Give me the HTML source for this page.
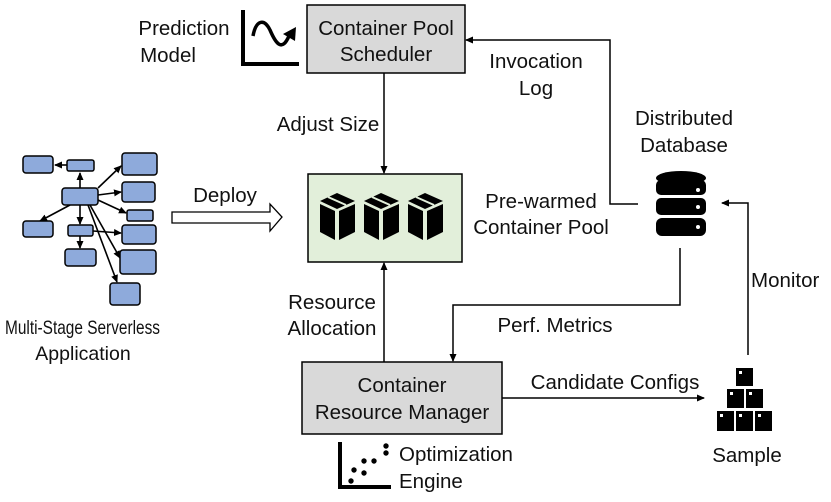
<!DOCTYPE html>
<html><head><style>
html,body{margin:0;padding:0;background:#fff}
svg text{font-family:"Liberation Sans",sans-serif;font-size:20.5px;fill:#111}
</style></head><body>
<svg width="831" height="497" viewBox="0 0 831 497" xmlns="http://www.w3.org/2000/svg">
<defs>
<marker id="a" markerWidth="8" markerHeight="8" refX="7" refY="4" orient="auto" markerUnits="userSpaceOnUse">
<path d="M0,0.5 L8,4 L0,7.5 Z" fill="#000"/></marker>
</defs>
<g stroke="#000" stroke-width="1.6" fill="none" marker-end="url(#a)">
<line x1="80" y1="188" x2="80" y2="173"/>
<line x1="67" y1="165" x2="55" y2="165"/>
<line x1="70" y1="205" x2="40" y2="221"/>
<line x1="80" y1="205" x2="80" y2="224"/>
<line x1="80" y1="236" x2="80" y2="248"/>
<line x1="98" y1="188" x2="121" y2="166"/>
<line x1="98" y1="195" x2="121" y2="192"/>
<line x1="98" y1="200" x2="126" y2="213"/>
<line x1="93" y1="231" x2="121" y2="233"/>
<line x1="90" y1="205" x2="120" y2="258"/>
<line x1="88" y1="205" x2="117" y2="282"/>
</g>
<g fill="#8eaadb" stroke="#000" stroke-width="1.5">
<rect x="23" y="156" width="30" height="17" rx="3"/>
<rect x="67" y="160" width="27" height="11" rx="2"/>
<rect x="62" y="188" width="36" height="17" rx="3"/>
<rect x="23" y="221" width="30" height="16" rx="3"/>
<rect x="68" y="225" width="25" height="11" rx="2"/>
<rect x="65" y="249" width="31" height="17" rx="3"/>
<rect x="122" y="153" width="35" height="22" rx="3"/>
<rect x="122" y="182" width="33" height="20" rx="3"/>
<rect x="127" y="210" width="26" height="11" rx="2"/>
<rect x="122" y="225" width="34" height="19" rx="3"/>
<rect x="120" y="250" width="36" height="24" rx="3"/>
<rect x="110" y="283" width="30" height="22" rx="3"/>
</g>
<text x="5" y="334" textLength="155" lengthAdjust="spacingAndGlyphs" style="font-size:19.5px">Multi-Stage Serverless</text>
<text x="83" y="360" text-anchor="middle" style="font-size:19.5px">Application</text>
<path d="M172,212 H270 V204 L282,217 L270,231 V223 H172 Z" fill="#fff" stroke="#000" stroke-width="1.3"/>
<text x="225" y="202" text-anchor="middle">Deploy</text>
<rect x="307" y="5" width="158" height="68" fill="#d9d9d9" stroke="#000" stroke-width="1.5"/>
<text x="386" y="35" text-anchor="middle">Container Pool</text>
<text x="386" y="61" text-anchor="middle">Scheduler</text>
<text x="184" y="35" text-anchor="middle">Prediction</text>
<text x="168" y="62" text-anchor="middle">Model</text>
<path d="M243,10 V64 H299" fill="none" stroke="#000" stroke-width="4"/>
<path d="M253,36 C256,20 264,18 270,30 C276,44 282,52 289,36" fill="none" stroke="#000" stroke-width="3.5"/>
<path d="M283,34 L296,27 L295,41 Z" fill="#000"/>
<line x1="384" y1="73" x2="384" y2="173" stroke="#000" stroke-width="1.5" marker-end="url(#a)"/>
<text x="328" y="131" text-anchor="middle">Adjust Size</text>
<rect x="308" y="174" width="154" height="88" fill="#e2efda" stroke="#000" stroke-width="1.5"/>
<g fill="#000">
<g id="bx">
<path d="M320,201 L337,193 L355,201 L337,209 Z"/>
<path d="M320,204 L335,211 V240 L320,232 Z"/>
<path d="M355,204 L339,211 V240 L355,232 Z"/>
</g>
<use href="#bx" x="44"/>
<use href="#bx" x="88"/>
</g>
<g stroke="#e2efda" stroke-width="2">
<line x1="328" y1="197" x2="346" y2="205"/><line x1="372" y1="197" x2="390" y2="205"/><line x1="416" y1="197" x2="434" y2="205"/>
</g>
<text x="541" y="208" text-anchor="middle">Pre-warmed</text>
<text x="541" y="234" text-anchor="middle">Container Pool</text>
<path d="M638,204 H610 V40 H466" fill="none" stroke="#000" stroke-width="1.5" marker-end="url(#a)"/>
<text x="536" y="68" text-anchor="middle">Invocation</text>
<text x="536" y="95" text-anchor="middle">Log</text>
<text x="684" y="125" text-anchor="middle">Distributed</text>
<text x="684" y="152" text-anchor="middle">Database</text>
<g fill="#000">
<ellipse cx="681" cy="178" rx="25" ry="7"/>
<rect x="656" y="180" width="50" height="15" rx="5"/>
<rect x="656" y="198" width="50" height="17" rx="5"/>
<rect x="656" y="218" width="50" height="18" rx="6"/>
</g>
<g fill="#fff"><circle cx="698" cy="190" r="2"/><circle cx="698" cy="207" r="2"/><circle cx="698" cy="227" r="2"/></g>
<path d="M680,248 V305 H453 V361" fill="none" stroke="#000" stroke-width="1.5" marker-end="url(#a)"/>
<text x="555" y="332" text-anchor="middle">Perf. Metrics</text>
<line x1="384" y1="362" x2="384" y2="263" stroke="#000" stroke-width="1.5" marker-end="url(#a)"/>
<text x="332" y="309" text-anchor="middle">Resource</text>
<text x="332" y="335" text-anchor="middle">Allocation</text>
<rect x="302" y="362" width="200" height="72" fill="#d9d9d9" stroke="#000" stroke-width="1.5"/>
<text x="402" y="392" text-anchor="middle">Container</text>
<text x="402" y="419" text-anchor="middle">Resource Manager</text>
<path d="M340,442 V487 H391" fill="none" stroke="#000" stroke-width="4"/>
<g fill="#000"><circle cx="351" cy="481" r="2.7"/><circle cx="354" cy="470" r="2.7"/><circle cx="364" cy="473" r="2.7"/><circle cx="364" cy="461" r="2.7"/><circle cx="374" cy="461" r="2.7"/><circle cx="386" cy="453" r="2.7"/><circle cx="386" cy="446" r="2.7"/></g>
<text x="399" y="461">Optimization</text>
<text x="399" y="488">Engine</text>
<line x1="502" y1="398" x2="704" y2="398" stroke="#000" stroke-width="1.5" marker-end="url(#a)"/>
<text x="615" y="389" text-anchor="middle">Candidate Configs</text>
<g fill="#000">
<rect x="736" y="368" width="17" height="18"/>
<rect x="727" y="389" width="17" height="19"/><rect x="746" y="389" width="17" height="19"/>
<rect x="717" y="411" width="17" height="20"/><rect x="736" y="411" width="17" height="20"/><rect x="755" y="411" width="17" height="20"/>
</g>
<g fill="#fff"><rect x="739" y="371" width="3" height="3"/><rect x="730" y="392" width="3" height="3"/><rect x="749" y="392" width="3" height="3"/><rect x="720" y="414" width="3" height="3"/><rect x="739" y="414" width="3" height="3"/><rect x="758" y="414" width="3" height="3"/></g>
<text x="747" y="462" text-anchor="middle">Sample</text>
<path d="M748,355 V203 H722" fill="none" stroke="#000" stroke-width="1.5" marker-end="url(#a)"/>
<text x="751" y="287">Monitor</text>
</svg>
</body></html>
